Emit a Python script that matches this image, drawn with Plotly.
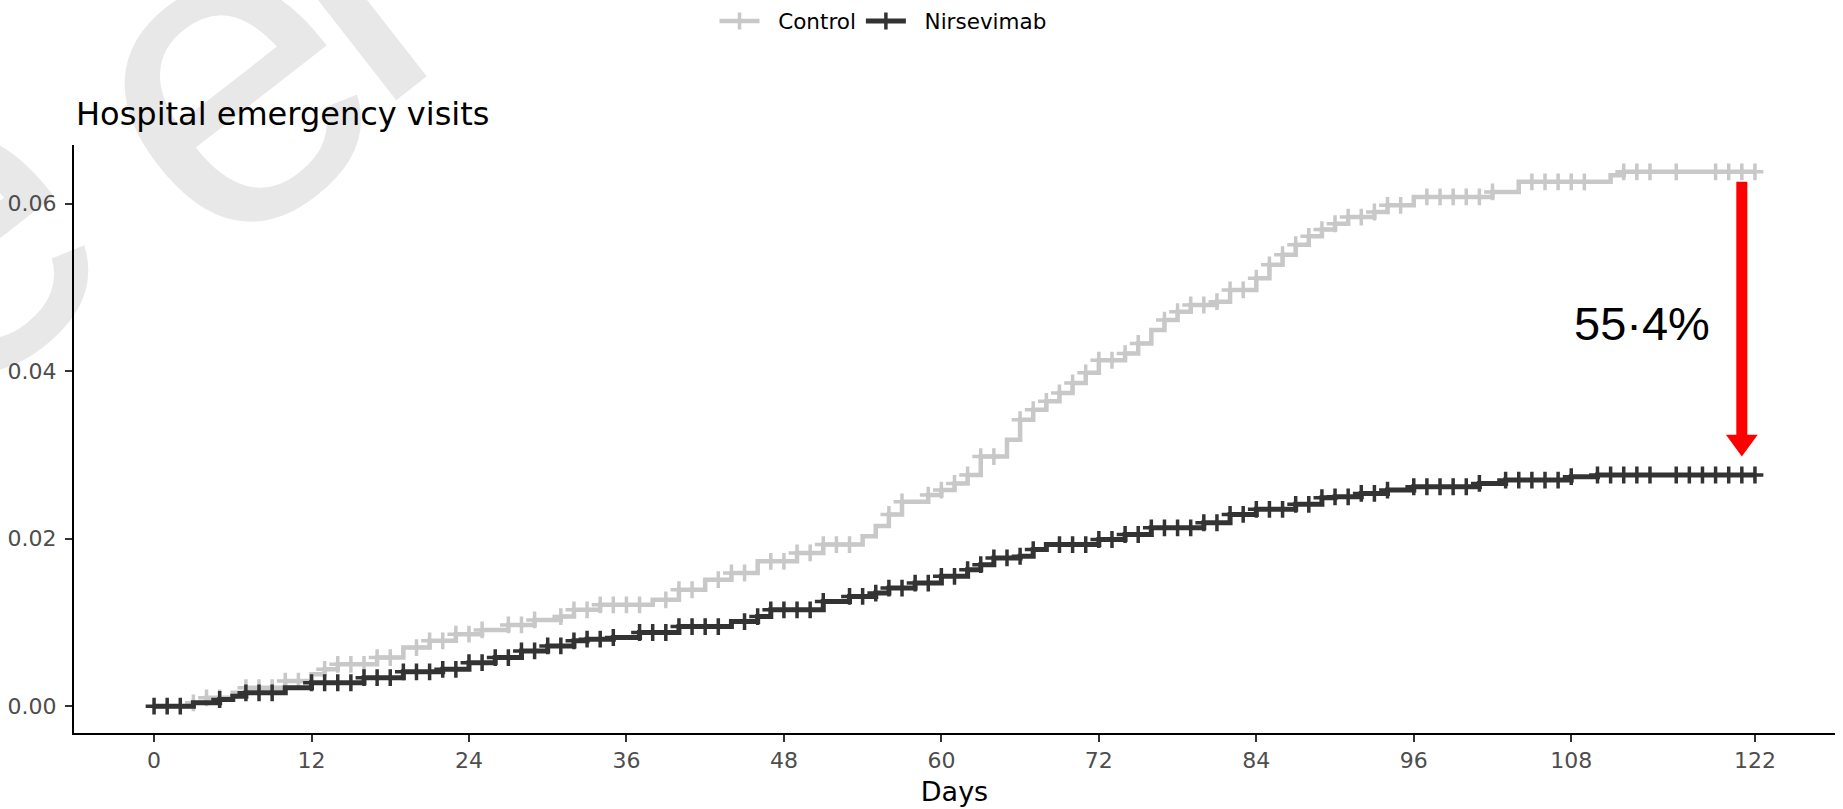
import base64
import plotly.graph_objects as go

# ---------------- data ----------------
days = list(range(0, 123))

control_cuminc = [
    0, 0, 0, 0.0004, 0.0010, 0.0010, 0.0016, 0.0022, 0.0022, 0.0022,
    0.0030, 0.0030, 0.0038, 0.0044, 0.0050, 0.0050, 0.0050, 0.0058, 0.0058, 0.0070,
    0.0070, 0.0078, 0.0078, 0.0086, 0.0086, 0.0091, 0.0091, 0.0097, 0.0097, 0.0103,
    0.0103, 0.0107, 0.0115, 0.0115, 0.0121, 0.0121, 0.0121, 0.0121, 0.0127, 0.0127,
    0.0139, 0.0139, 0.0151, 0.0151, 0.0159, 0.0159, 0.0173, 0.0173, 0.0173, 0.0183,
    0.0183, 0.0193, 0.0193, 0.0193, 0.0203, 0.0215, 0.0229, 0.0244, 0.0244, 0.0252,
    0.0258, 0.0266, 0.0276, 0.0298, 0.0298, 0.0318, 0.0342, 0.0354, 0.0364, 0.0374,
    0.0386, 0.0398, 0.0413, 0.0413, 0.0421, 0.0433, 0.0449, 0.0461, 0.0471, 0.0479,
    0.0479, 0.0483, 0.0497, 0.0497, 0.0511, 0.0527, 0.0539, 0.0551, 0.0561, 0.0569,
    0.0576, 0.0584, 0.0584, 0.0590, 0.0598, 0.0598, 0.0608, 0.0608, 0.0608, 0.0608,
    0.0608, 0.0608, 0.0614, 0.0614, 0.0626, 0.0626, 0.0626, 0.0626, 0.0626, 0.0626,
    0.0626, 0.0634, 0.0638, 0.0638, 0.0638, 0.0638, 0.0638, 0.0638, 0.0638, 0.0638,
    0.0638, 0.0638, 0.0638,
]

nirsevimab_cuminc = [
    0, 0, 0, 0.0004, 0.0004, 0.0008, 0.0012, 0.0016, 0.0016, 0.0016,
    0.0022, 0.0022, 0.0028, 0.0028, 0.0028, 0.0028, 0.0034, 0.0034, 0.0034, 0.0041,
    0.0041, 0.0041, 0.0044, 0.0044, 0.0052, 0.0052, 0.0058, 0.0058, 0.0066, 0.0066,
    0.0072, 0.0072, 0.0078, 0.0080, 0.0080, 0.0082, 0.0082, 0.0088, 0.0088, 0.0088,
    0.0095, 0.0095, 0.0095, 0.0095, 0.0101, 0.0101, 0.0107, 0.0115, 0.0115, 0.0115,
    0.0115, 0.0125, 0.0125, 0.0131, 0.0131, 0.0135, 0.0141, 0.0141, 0.0147, 0.0147,
    0.0155, 0.0155, 0.0163, 0.0169, 0.0177, 0.0177, 0.0179, 0.0187, 0.0193, 0.0193,
    0.0193, 0.0193, 0.0199, 0.0199, 0.0205, 0.0205, 0.0213, 0.0213, 0.0213, 0.0213,
    0.0219, 0.0219, 0.0229, 0.0229, 0.0235, 0.0235, 0.0235, 0.0241, 0.0241, 0.0249,
    0.0250, 0.0250, 0.0254, 0.0254, 0.0258, 0.0258, 0.0262, 0.0262, 0.0262, 0.0262,
    0.0262, 0.0266, 0.0266, 0.0270, 0.0270, 0.0270, 0.0270, 0.0270, 0.0274, 0.0274,
    0.0276, 0.0276, 0.0276, 0.0276, 0.0276, 0.0276, 0.0276, 0.0276, 0.0276, 0.0276,
    0.0276, 0.0276, 0.0276,
]

control_censor_days = [
    3, 4, 5, 7, 8, 9, 10, 11, 13, 14, 15, 16, 17, 18, 20, 21, 22, 23, 24, 25, 27, 28, 29,
    31, 32, 33, 34, 35, 36, 37, 39, 40, 41, 43, 44, 45, 47, 48, 49, 50, 51, 52, 53, 56, 57,
    59, 60, 61, 62, 63, 64, 66, 67, 68, 69, 70, 71, 72, 73, 74, 75, 77, 78, 79, 80, 81, 82,
    83, 84, 85, 86, 87, 88, 89, 90, 91, 92, 93, 94, 95, 97, 98, 99, 100, 101, 102, 105,
    106, 107, 108, 109, 112, 113, 114, 116, 119, 120, 121, 122,
]

nirsevimab_censor_days = [
    0, 1, 2, 5, 7, 8, 9, 12, 13, 14, 15, 16, 17, 18, 19, 20, 21, 22, 23, 24, 25, 26, 27, 28,
    29, 30, 31, 32, 33, 34, 35, 37, 38, 39, 40, 41, 42, 43, 45, 46, 47, 48, 49, 50, 51, 53,
    54, 55, 56, 57, 58, 59, 60, 61, 62, 63, 64, 65, 66, 67, 69, 70, 71, 72, 73, 74, 75, 76,
    77, 78, 79, 80, 81, 82, 83, 84, 85, 86, 87, 88, 89, 90, 91, 92, 93, 94, 96, 97, 98, 99,
    100, 101, 103, 104, 105, 106, 107, 108, 110, 111, 112, 113, 114, 116, 117, 118, 119,
    120, 121, 122,
]

series_names = ["Control", "Nirsevimab"]
x_tick_values = [0, 12, 24, 36, 48, 60, 72, 84, 96, 108, 122]
y_tick_values = [0.00, 0.02, 0.04, 0.06]
y_tick_labels = ["0.00", "0.02", "0.04", "0.06"]
reduction_label = "55\u00b74%"

assert len(control_cuminc) == len(days) == len(nirsevimab_cuminc)

# ---------------- styling ----------------
CONTROL_COLOR = "#c8c8c8"
NIRS_COLOR = "#333333"
TEXT_FONT = "DejaVu Sans"

W, H = 1843, 809
ML, MR, MT, MB = 74, 8, 145, 76
PW, PH = W - ML - MR, H - MT - MB

fig = go.Figure()


def add_arm(values, censor, color, width, name):
    fig.add_trace(go.Scatter(
        x=days, y=values, mode="lines", line=dict(color=color, width=width, shape="hv"),
        showlegend=False, hoverinfo="skip"))
    lookup = dict(zip(days, values))
    fig.add_trace(go.Scatter(
        x=censor, y=[lookup[d] for d in censor], mode="markers",
        marker=dict(symbol="cross-thin", size=12, color=color,
                    line=dict(color=color, width=3.5)),
        showlegend=False, hoverinfo="skip"))
    # legend entry (line with a cross)
    fig.add_trace(go.Scatter(
        x=[None], y=[None], mode="lines+markers", name="\u00a0\u00a0" + name,
        line=dict(color=color, width=width),
        marker=dict(symbol="line-ns", size=12, color=color,
                    line=dict(color=color, width=3.5))))


add_arm(control_cuminc, control_censor_days, CONTROL_COLOR, 4.5, series_names[0])
add_arm(nirsevimab_cuminc, nirsevimab_censor_days, NIRS_COLOR, 5, series_names[1])

# ---------------- red arrow + reduction label ----------------
arrow_day = 121.0
arrow_top = control_cuminc[-1] - 0.0012
arrow_tip = nirsevimab_cuminc[-1] + 0.0022
shaft_half = 0.42          # days
head_half = 1.21           # days
head_len = 0.00262         # cumulative incidence units
d = arrow_day
path = (f"M {d - shaft_half},{arrow_top} L {d + shaft_half},{arrow_top} "
        f"L {d + shaft_half},{arrow_tip + head_len} L {d + head_half},{arrow_tip + head_len} "
        f"L {d},{arrow_tip} L {d - head_half},{arrow_tip + head_len} "
        f"L {d - shaft_half},{arrow_tip + head_len} Z")
fig.add_shape(type="path", path=path, xref="x", yref="y",
              fillcolor="#ff0000", line=dict(width=0), layer="above")

fig.add_annotation(x=113.4, y=0.0457, xref="x", yref="y", text=reduction_label,
                   showarrow=False, xanchor="center", yanchor="middle",
                   font=dict(family="Liberation Sans, Arial", size=47, color="#000000"))

# ---------------- faint watermark (background) ----------------
svg = (
    '<svg xmlns="http://www.w3.org/2000/svg" width="460" height="460" viewBox="0 0 460 460">'
    '<text x="-57" y="420" font-family="Liberation Sans, Arial, sans-serif" font-size="440" '
    'fill="#e8e8e8" transform="rotate(-38 -57 420)">e<tspan dx="63" dy="49">e</tspan>'
    '<tspan dx="-28" dy="-22">l</tspan></text></svg>'
)
svg_uri = "data:image/svg+xml;base64," + base64.b64encode(svg.encode()).decode()
fig.add_layout_image(
    source=svg_uri, xref="paper", yref="paper",
    x=(0 - ML) / PW, y=(MT + PH - 0) / PH, sizex=460 / PW, sizey=460 / PH,
    xanchor="left", yanchor="top", sizing="stretch", layer="below")

# ---------------- layout ----------------
fig.update_layout(
    width=W, height=H,
    margin=dict(l=ML, r=MR, t=MT, b=MB, pad=0, autoexpand=False),
    paper_bgcolor="#ffffff", plot_bgcolor="rgba(0,0,0,0)",
    hovermode=False,
    title=dict(text="Hospital emergency visits", x=76 / W, xref="container", xanchor="left",
               y=1 - 113.5 / H, yref="container", yanchor="middle",
               font=dict(family=TEXT_FONT, size=32, color="#000000"), pad=dict(l=0, r=0, t=0, b=0)),
    legend=dict(orientation="h", x=883 / W, xref="container", xanchor="center",
                y=1 - 21 / H, yref="container", yanchor="middle",
                font=dict(family=TEXT_FONT, size=21.5, color="#000000"),
                bgcolor="rgba(0,0,0,0)", itemwidth=40, traceorder="normal"),
    xaxis=dict(
        range=[-6.1, 128.1], tickmode="array", tickvals=x_tick_values,
        ticktext=[str(v) for v in x_tick_values],
        showgrid=False, zeroline=False, showline=True, linecolor="#000000", linewidth=2,
        ticks="outside", ticklen=7, tickwidth=2, tickcolor="#333333",
        tickfont=dict(family=TEXT_FONT, size=22, color="#4d4d4d"),
        title=dict(text="Days", font=dict(family=TEXT_FONT, size=27, color="#000000"), standoff=10),
    ),
    yaxis=dict(
        range=[-0.0032, 0.067], tickmode="array", tickvals=y_tick_values, ticktext=y_tick_labels,
        showgrid=False, zeroline=False, showline=True, linecolor="#000000", linewidth=2,
        ticks="outside", ticklen=7, tickwidth=2, tickcolor="#333333",
        tickfont=dict(family=TEXT_FONT, size=22, color="#4d4d4d"),
        ticklabelstandoff=4,
    ),
)

fig.write_html(
    "out.html",
    config={"displayModeBar": False},
    post_script="document.body.style.margin='0px';document.body.style.overflow='hidden';",
)
